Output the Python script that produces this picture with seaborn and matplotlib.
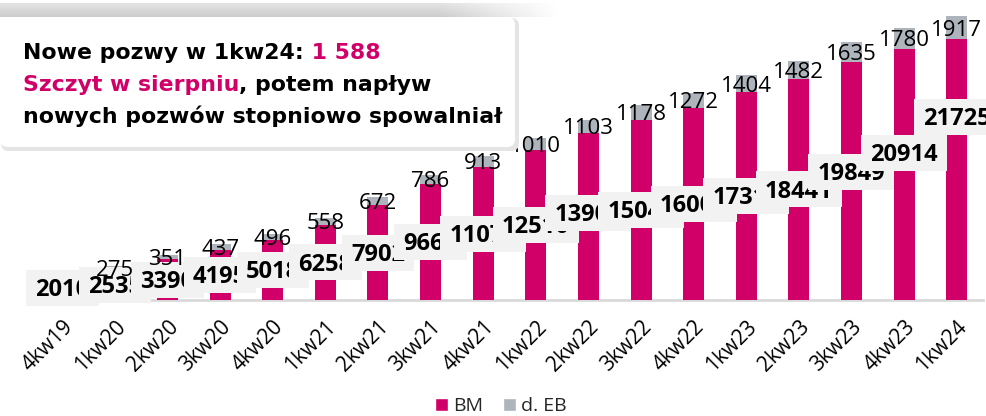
import matplotlib
matplotlib.use("Agg")
import matplotlib.pyplot as plt
import matplotlib.transforms as mtransforms
from matplotlib.patches import Rectangle, FancyBboxPatch, Patch
from matplotlib.text import Annotation
import numpy as np
import pandas as pd
import seaborn as sns

# ---------------- data ----------------
quarters = ["4kw19", "1kw20", "2kw20", "3kw20", "4kw20", "1kw21", "2kw21", "3kw21",
            "4kw21", "1kw22", "2kw22", "3kw22", "4kw22", "1kw23", "2kw23", "3kw23",
            "4kw23", "1kw24"]
bm = [2010, 2535, 3390, 4195, 5018, 6258, 7902, 9666, 11070, 12510, 13900, 15040,
      16000, 17310, 18441, 19849, 20914, 21725]
eb = [0, 275, 351, 437, 496, 558, 672, 786, 913, 1010, 1103, 1178, 1272, 1404,
      1482, 1635, 1780, 1917]
series_names = ["BM", "d. EB"]
title_parts = [
    [("Nowe pozwy w 1kw24:", "k"), (" 1 588", "m")],
    [("Szczyt w sierpniu", "m"), (", potem napływ", "k")],
    [("nowych pozwów stopniowo spowalniał", "k")],
]

# label placement tweaks (pixels) for BM value boxes
label_lift_px = [0, 0, 0, 0, 0, 0, 0, 0, 0, 0, 4, 0, 0, 0, 0, 9, 22, 53]

# ---------------- style ----------------
MAGENTA = "#D10069"
GREY = "#ADB4BC"
BOXC = "#F2F2F2"
W, H = 987, 416

sns.set_theme(style="white")
plt.rcParams["font.family"] = ["Open Sans", "DejaVu Sans"]

fig = plt.figure(figsize=(W / 100, H / 100), dpi=100)
ax = fig.add_axes([36 / W, 116 / H, 947 / W, 300 / H])

df = pd.DataFrame({"q": quarters, "BM": bm, "EB": eb})
df["total"] = df["BM"] + df["EB"]

sns.barplot(data=df, x="q", y="total", color=GREY, width=0.4, ax=ax,
            saturation=1, linewidth=0, errorbar=None, zorder=2)
sns.barplot(data=df, x="q", y="BM", color=MAGENTA, width=0.4, ax=ax,
            saturation=1, linewidth=0, errorbar=None, zorder=3)

ax.set_xlim(-0.5, len(quarters) - 0.5)
ax.set_ylim(0, 25000)
ax.set_xlabel("")
ax.set_ylabel("")
ax.set_yticks([])
for s in ["top", "right", "left"]:
    ax.spines[s].set_visible(False)
ax.spines["bottom"].set_color("#D9D9D9")
ax.spines["bottom"].set_linewidth(2)
ax.tick_params(axis="x", length=0, pad=12)
for lbl in ax.get_xticklabels():
    lbl.set_rotation(45)
    lbl.set_ha("right")
    lbl.set_va("top")
    lbl.set_rotation_mode("anchor")
    lbl.set_fontsize(15)
    lbl.set_color("black")

# BM value boxes (each box overlaps the previous label)
for i, (v, lift) in enumerate(zip(df["BM"], label_lift_px)):
    txt = f"{v}"
    trans = fig.dpi_scale_trans + mtransforms.ScaledTranslation(i, v / 2, ax.transData)
    wpx = len(txt) * 13.6 + 18
    hpx = 36
    ax.add_patch(Rectangle((-wpx / 200, (-hpx / 2 + lift) / 100), wpx / 100, hpx / 100,
                           transform=trans, facecolor=BOXC, edgecolor="none",
                           zorder=10 + 2 * i, clip_on=False))
    ax.text(0, (lift - 8.3) / 100, txt, transform=trans, ha="center", va="baseline",
            fontsize=17, fontweight="bold", color="black", zorder=11 + 2 * i,
            clip_on=False)

# d. EB value labels, centred on the grey segment
for i, (b, e) in enumerate(zip(df["BM"], df["EB"])):
    if e <= 0:
        continue
    ax.annotate(f"{e}", xy=(i, b + e / 2), xytext=(0, -7.8 * 0.72),
                textcoords="offset points", ha="center", va="baseline",
                fontsize=16, color="black", zorder=60, annotation_clip=False)

# ---------------- annotation box ----------------
band = fig.add_axes([0, (H - 17) / H, 560 / W, 14 / H])
band.axis("off")
cols = np.ones(560)
cols[:440] = 0.80
cols[440:] = np.linspace(0.80, 1.0, 120)
rows = np.linspace(0.88, 0.79, 14)[:, None]
grad = np.clip(cols[None, :] + (rows - 0.79) * (1 - (cols[None, :] - 0.80) / 0.2), 0, 1)
band.imshow(grad, cmap="gray", vmin=0, vmax=1, aspect="auto", interpolation="bilinear")

ident = mtransforms.IdentityTransform()
shadow = FancyBboxPatch((1, H - 151), 518, 133, boxstyle="round,pad=0,rounding_size=8",
                        transform=ident, facecolor="#E4E4E4", edgecolor="none", zorder=1)
fig.add_artist(shadow)
box = FancyBboxPatch((0, H - 147), 515, 130, boxstyle="round,pad=0,rounding_size=8",
                     transform=ident, facecolor="white", edgecolor="none", zorder=2)
fig.add_artist(box)

cmap_txt = {"k": "black", "m": MAGENTA}
baselines = [59, 91, 123]
for parts, yb in zip(title_parts, baselines):
    prev = None
    for txt, c in parts:
        if prev is None:
            prev = fig.text(23 / W, 1 - yb / H, txt, ha="left", va="baseline",
                            fontsize=15.8, fontweight="bold", color=cmap_txt[c],
                            family="DejaVu Sans", zorder=5)
        else:
            a = Annotation(txt, xy=(1, 0), xycoords=prev, ha="left", va="bottom",
                           fontsize=15.8, fontweight="bold", color=cmap_txt[c],
                           family="DejaVu Sans", zorder=5, annotation_clip=False)
            fig.add_artist(a)
            prev = a

# ---------------- legend ----------------
handles = [Patch(facecolor=MAGENTA, label=series_names[0]),
           Patch(facecolor=GREY, label=series_names[1])]
fig.legend(handles=handles, loc="center", bbox_to_anchor=(501 / W, 1 - 406 / H),
           ncol=2, frameon=False, fontsize=14, handlelength=0.65, handleheight=0.65,
           handletextpad=0.3, columnspacing=1.0, borderaxespad=0)

fig.savefig("out.png", dpi=100)
